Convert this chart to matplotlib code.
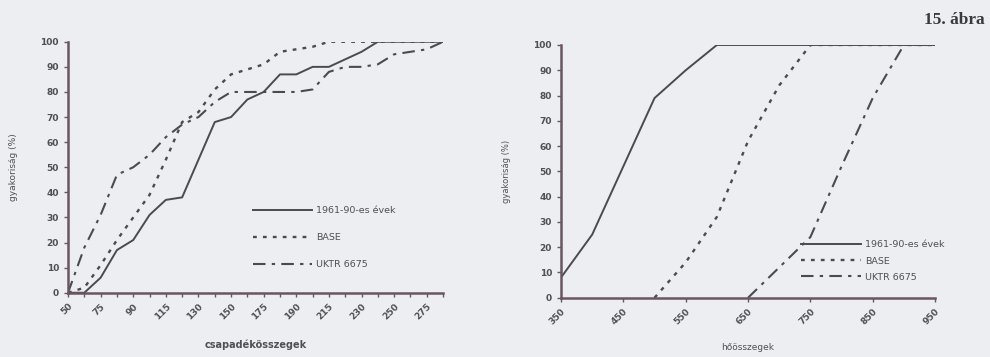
import matplotlib
matplotlib.use("Agg")
import matplotlib.pyplot as plt

# left chart: precipitation totals (category axis)
csap_labels = ["50", "", "75", "", "90", "", "115", "", "130", "", "150", "",
               "175", "", "190", "", "215", "", "230", "", "250", "", "275", ""]
csap_obs = [0, 0, 6, 17, 21, 31, 37, 38, 53, 68, 70, 77, 80, 87, 87, 90, 90, 93, 96, 100, 100, 100, 100, 100]
csap_base = [0, 2, 11, 21, 30, 39, 53, 68, 72, 81, 87, 89, 91, 96, 97, 98, 100, 100, 100, 100, 100, 100, 100, 100]
csap_uktr = [0, 18, 31, 47, 50, 55, 62, 67, 70, 76, 80, 80, 80, 80, 80, 81, 88, 90, 90, 91, 95, 96, 97, 100]

# right chart: heat sums
ho_x = [350, 400, 450, 500, 550, 600, 650, 700, 750, 800, 850, 900, 950]
ho_obs = [8, 25, 52, 79, 90, 100, 100, 100, 100, 100, 100, 100, 100]
ho_base_x = [500, 550, 600, 650, 700, 750, 800, 850, 900, 950]
ho_base = [0, 14, 32, 62, 84, 100, 100, 100, 100, 100]
ho_uktr_x = [650, 700, 750, 800, 850, 900, 950]
ho_uktr = [0, 12, 24, 52, 79, 100, 100]

series_names = ["1961-90-es évek", "BASE", "UKTR 6675"]

BG = "#eceef1"
LINE = "#4b4b4d"
AXC = "#6a5560"
TXT = "#505052"

fig = plt.figure(figsize=(9.9, 3.57), dpi=100, facecolor=BG)

styles = [dict(ls="-", lw=1.4),
          dict(ls=(0, (1.6, 2.6)), lw=1.7),
          dict(ls=(0, (6, 3, 1.6, 3)), lw=1.5)]


def style_axes(ax):
    ax.set_facecolor(BG)
    for s in ["top", "right"]:
        ax.spines[s].set_visible(False)
    for s in ["left", "bottom"]:
        ax.spines[s].set_color(AXC)
        ax.spines[s].set_linewidth(1.8)
    ax.tick_params(colors=AXC, labelcolor=TXT, labelsize=6.5, length=3, width=1)
    ax.set_ylim(0, 100)
    ax.set_yticks(range(0, 101, 10))
    for lab in ax.get_yticklabels():
        lab.set_fontweight("bold")


ax1 = fig.add_axes([0.0687, 0.180, 0.3788, 0.703])
style_axes(ax1)
xs = list(range(len(csap_labels)))
for vals, st, name in zip([csap_obs, csap_base, csap_uktr], styles, series_names):
    ax1.plot(xs, vals, color=LINE, label=name, **st)
ax1.set_xlim(0, len(csap_labels) - 1)
ax1.set_xticks(xs)
ax1.set_xticklabels(csap_labels, rotation=45, ha="right", rotation_mode="anchor", fontweight="bold")
ax1.set_ylabel("gyakoriság (%)", fontsize=6.5, color=TXT, labelpad=16)
ax1.set_xlabel("csapadékösszegek", fontsize=7, color=TXT, fontweight="bold", labelpad=13)
ax1.legend(loc="lower left", bbox_to_anchor=(0.47, 0.06), frameon=False, fontsize=6.8,
           handlelength=6.3, labelspacing=1.9, handletextpad=0.4, labelcolor=TXT)

ax2 = fig.add_axes([0.5667, 0.166, 0.3778, 0.708])
style_axes(ax2)
ax2.plot(ho_x, ho_obs, color=LINE, label=series_names[0], **styles[0])
ax2.plot(ho_base_x, ho_base, color=LINE, label=series_names[1], **styles[1])
ax2.plot(ho_uktr_x, ho_uktr, color=LINE, label=series_names[2], **styles[2])
ax2.set_xlim(350, 950)
ax2.set_xticks(range(350, 951, 100))
ax2.set_xticklabels([str(v) for v in range(350, 951, 100)], rotation=45, ha="right",
                    rotation_mode="anchor", fontweight="bold")
ax2.set_ylabel("gyakoriság (%)", fontsize=6, color=TXT, labelpad=16)
ax2.set_xlabel("hőösszegek", fontsize=6.5, color=TXT, labelpad=12)
ax2.legend(loc="lower left", bbox_to_anchor=(0.62, 0.03), frameon=False, fontsize=6.8,
           handlelength=6.3, labelspacing=0.75, handletextpad=0.4, labelcolor=TXT)

fig.text(0.995, 0.965, "15. ábra", ha="right", va="top", fontsize=12.5,
         fontweight="bold", family="Liberation Serif", color="#3a3a3c")

fig.savefig("out.png", dpi=100, facecolor=BG)
